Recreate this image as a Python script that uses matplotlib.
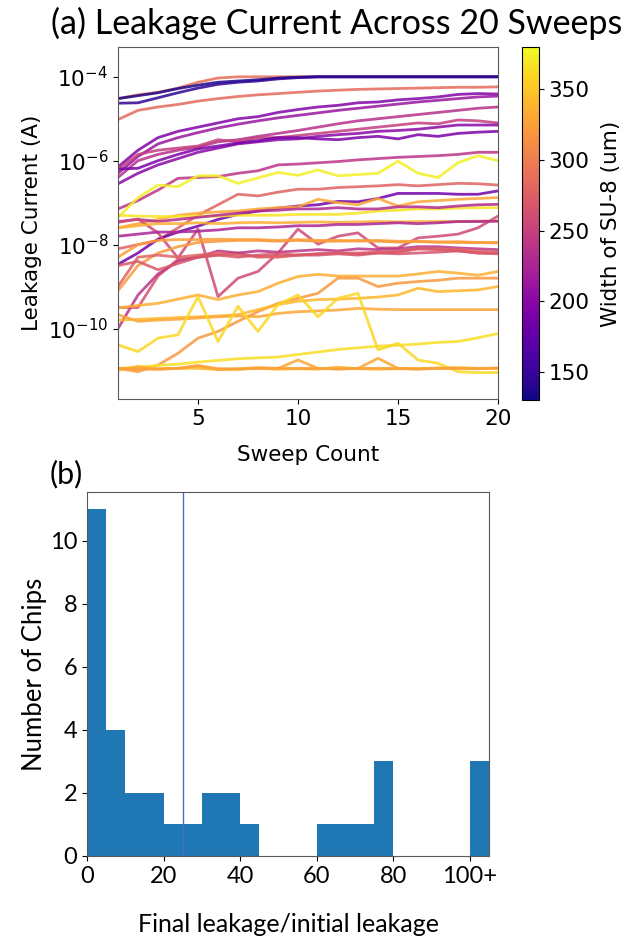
import numpy as np
import matplotlib
matplotlib.use("Agg")
import matplotlib.pyplot as plt
from matplotlib.colors import Normalize
from matplotlib.ticker import FixedLocator, NullLocator

# ---- panel (a): leakage current per sweep, log10(A), colored by SU-8 width (um)
sweeps = list(range(1, 21))

widths = [290, 135, 145, 285, 195, 212, 235, 248, 200, 190, 240, 375, 280, 185,
          330, 368, 230, 258, 320, 335, 265, 240, 335, 320, 340, 330, 365, 360,
          330, 340, 325, 225, 325, 280, 270]

log_leak = [
    [-4.52, -4.43, -4.37, -4.27, -4.13, -4.03, -4.0, -4.0, -4.0, -4.0, -4.0, -4.0, -4.0, -4.0, -4.0, -4.0, -4.0, -4.0, -4.0, -4.0],
    [-4.52, -4.45, -4.38, -4.28, -4.2, -4.13, -4.1, -4.07, -4.03, -4.01, -4.0, -4.0, -4.0, -4.0, -4.0, -4.0, -4.0, -4.0, -4.0, -4.0],
    [-4.63, -4.62, -4.5, -4.38, -4.27, -4.18, -4.13, -4.1, -4.05, -4.02, -4.0, -4.0, -4.0, -4.0, -4.0, -4.0, -4.0, -4.0, -4.0, -4.0],
    [-5.02, -4.8, -4.72, -4.66, -4.58, -4.52, -4.47, -4.43, -4.4, -4.37, -4.34, -4.32, -4.3, -4.29, -4.28, -4.27, -4.26, -4.25, -4.25, -4.24],
    [-6.15, -5.75, -5.45, -5.3, -5.2, -5.1, -5.0, -4.95, -4.85, -4.78, -4.72, -4.68, -4.62, -4.6, -4.55, -4.52, -4.48, -4.42, -4.4, -4.41],
    [-6.3, -5.9, -5.6, -5.45, -5.33, -5.22, -5.13, -5.05, -4.98, -4.92, -4.86, -4.8, -4.75, -4.7, -4.65, -4.6, -4.56, -4.52, -4.48, -4.46],
    [-6.4, -6.0, -5.85, -5.75, -5.68, -5.55, -5.5, -5.42, -5.35, -5.28, -5.2, -5.12, -5.05, -5.0, -4.95, -4.9, -4.85, -4.8, -4.75, -4.72],
    [-6.2, -5.85, -5.75, -5.7, -5.65, -5.5, -5.55, -5.45, -5.45, -5.4, -5.35, -5.3, -5.25, -5.2, -5.15, -5.1, -5.12, -5.03, -5.05, -5.1],
    [-6.55, -6.3, -6.1, -5.95, -5.8, -5.7, -5.6, -5.55, -5.5, -5.48, -5.42, -5.38, -5.35, -5.3, -5.28, -5.25, -5.2, -5.15, -5.15, -5.15],
    [-6.2, -6.18, -6.0, -5.85, -5.72, -5.65, -5.58, -5.52, -5.45, -5.45, -5.48, -5.5, -5.45, -5.42, -5.48, -5.38, -5.42, -5.35, -5.32, -5.3],
    [-7.15, -6.95, -6.7, -6.42, -6.4, -6.38, -6.3, -6.24, -6.1, -6.08, -6.05, -6.02, -5.98, -5.95, -5.92, -5.9, -5.88, -5.85, -5.8, -5.8],
    [-7.35, -6.88, -6.58, -6.62, -6.36, -6.36, -6.54, -6.41, -6.28, -6.35, -6.22, -6.36, -6.33, -6.3, -6.01, -6.3, -6.4, -6.05, -5.88, -6.0],
    [-8.1, -8.0, -7.9, -7.6, -7.3, -7.05, -6.8, -6.84, -6.75, -6.68, -6.68, -6.64, -6.62, -6.6, -6.57, -6.6, -6.57, -6.54, -6.55, -6.58],
    [-8.47, -8.2, -7.87, -7.7, -7.56, -7.4, -7.28, -7.2, -7.13, -7.08, -7.05, -6.97, -6.98, -6.9, -6.78, -6.78, -6.78, -6.8, -6.8, -6.72],
    [-7.6, -7.5, -7.4, -7.3, -7.25, -7.22, -7.2, -7.15, -7.12, -7.1, -6.92, -7.0, -7.05, -6.9, -7.08, -6.98, -6.95, -6.92, -6.9, -6.88],
    [-7.3, -7.32, -7.33, -7.33, -7.32, -7.32, -7.3, -7.3, -7.3, -7.28, -7.28, -7.28, -7.25, -7.2, -7.18, -7.15, -7.15, -7.13, -7.12, -7.12],
    [-7.45, -7.4, -7.45, -7.4, -7.35, -7.3, -7.25, -7.2, -7.18, -7.15, -7.15, -7.12, -7.15, -7.15, -7.1, -7.1, -7.12, -7.08, -7.05, -7.04],
    [-7.47, -7.39, -7.72, -8.32, -7.63, -9.24, -8.8, -8.64, -8.2, -7.63, -7.99, -7.8, -7.72, -8.08, -8.08, -7.84, -7.8, -7.75, -7.6, -7.32],
    [-9.1, -8.5, -8.2, -8.05, -7.95, -7.92, -7.9, -7.9, -7.92, -7.9, -7.92, -7.92, -7.9, -7.92, -7.94, -7.93, -7.94, -7.95, -7.95, -7.95],
    [-7.6, -7.55, -7.5, -7.5, -7.48, -7.5, -7.48, -7.47, -7.48, -7.47, -7.46, -7.47, -7.46, -7.45, -7.46, -7.45, -7.45, -7.45, -7.44, -7.44],
    [-9.5, -9.5, -8.75, -8.35, -8.3, -8.25, -8.2, -8.3, -8.28, -8.25, -8.25, -8.22, -8.25, -8.2, -8.22, -8.2, -8.18, -8.15, -8.2, -8.22],
    [-10.0, -9.2, -8.7, -8.4, -8.3, -8.15, -8.2, -8.15, -8.18, -8.15, -8.12, -8.15, -8.1, -8.12, -8.1, -8.05, -8.05, -8.08, -8.1, -8.12],
    [-9.51, -9.45, -9.4, -9.3, -9.2, -9.31, -9.2, -9.12, -8.92, -8.76, -8.71, -8.75, -8.75, -8.75, -8.75, -8.7, -8.64, -8.68, -8.73, -8.64],
    [-10.95, -11.03, -10.87, -10.59, -10.23, -10.07, -9.83, -9.6, -9.4, -9.28, -9.16, -8.8, -8.8, -9.0, -8.92, -8.88, -8.85, -8.8, -8.8, -8.8],
    [-9.8, -9.78, -9.76, -9.74, -9.72, -9.7, -9.67, -9.55, -9.43, -9.35, -9.31, -9.3, -9.28, -9.25, -9.2, -9.04, -9.12, -9.1, -9.08, -9.0],
    [-9.67, -9.83, -9.8, -9.78, -9.75, -9.72, -9.7, -9.72, -9.64, -9.6, -9.58, -9.56, -9.52, -9.54, -9.55, -9.55, -9.55, -9.55, -9.55, -9.55],
    [-10.95, -10.92, -10.88, -10.85, -10.8, -10.76, -10.72, -10.7, -10.68, -10.62, -10.56, -10.5, -10.46, -10.42, -10.4, -10.37, -10.33, -10.31, -10.22, -10.12],
    [-10.39, -10.55, -10.23, -10.15, -9.24, -10.31, -9.47, -10.07, -9.43, -9.2, -9.72, -9.28, -9.16, -10.51, -10.35, -10.75, -10.83, -11.03, -11.05, -11.05],
    [-10.95, -10.97, -10.97, -10.95, -10.9, -10.97, -10.97, -10.93, -10.95, -10.75, -10.95, -10.97, -10.95, -10.71, -10.95, -10.97, -10.95, -10.95, -10.95, -10.95],
    [-11.0, -10.9, -10.97, -10.95, -10.95, -10.98, -10.97, -10.95, -10.97, -10.96, -10.97, -10.92, -10.96, -10.97, -10.96, -10.96, -10.94, -10.93, -10.95, -10.95],
    [-10.95, -10.96, -10.96, -10.95, -10.88, -10.96, -10.96, -10.95, -10.95, -10.95, -10.95, -10.96, -10.95, -10.95, -10.95, -10.96, -10.95, -10.95, -10.96, -10.94],
    [-7.8, -7.75, -7.7, -7.7, -7.68, -7.65, -7.6, -7.6, -7.58, -7.55, -7.55, -7.52, -7.52, -7.5, -7.48, -7.5, -7.48, -7.45, -7.45, -7.44],
    [-8.3, -8.0, -7.9, -7.88, -7.88, -7.87, -7.88, -7.88, -7.9, -7.88, -7.9, -7.9, -7.92, -7.9, -7.92, -7.92, -7.94, -7.93, -7.95, -7.96],
    [-9.0, -8.3, -8.25, -8.3, -8.25, -8.2, -8.25, -8.28, -8.3, -8.25, -8.22, -8.2, -8.2, -8.18, -8.15, -8.1, -8.1, -8.12, -8.15, -8.18],
    [-8.5, -8.4, -8.6, -8.45, -8.3, -8.25, -8.3, -8.25, -8.22, -8.25, -8.22, -8.2, -8.22, -8.2, -8.18, -8.1, -8.12, -8.15, -8.2, -8.2],
]

# ---- panel (b): histogram of final/initial leakage ratio
bin_edges = [0, 5, 10, 15, 20, 25, 30, 35, 40, 45, 50, 55, 60, 65, 70, 75, 80,
             85, 90, 95, 100, 105]
chip_counts = [11, 4, 2, 2, 1, 1, 2, 2, 1, 0, 0, 0, 1, 1, 1, 3, 0, 0, 0, 0, 3]
ratio_ticks = [0, 20, 40, 60, 80, 100]
ratio_labels = ["0", "20", "40", "60", "80", "100+"]
threshold = 25

LABEL_FONT = ["Lato", "DejaVu Sans"]
W, H = 634, 944

fig = plt.figure(figsize=(W / 100, H / 100), dpi=100)

# top panel
ax1 = fig.add_axes([118 / W, 1 - 399 / H, 380 / W, 352 / H])
cax = fig.add_axes([522 / W, 1 - 400 / H, 17 / W, 353 / H])

cmap = plt.get_cmap("plasma")
norm = Normalize(vmin=130, vmax=380)
for w, series in zip(widths, log_leak):
    ax1.plot(sweeps, 10.0 ** np.array(series), color=cmap(norm(w)), lw=2, alpha=0.85)

ax1.set_yscale("log")
ax1.set_xlim(1, 20)
ax1.set_ylim(10 ** -11.68, 10 ** -3.29)
ax1.yaxis.set_major_locator(FixedLocator([1e-4, 1e-6, 1e-8, 1e-10]))
ax1.yaxis.set_minor_locator(NullLocator())
ax1.set_xticks([5, 10, 15, 20])
ax1.tick_params(labelsize=15.5)
ax1.set_xlabel("Sweep Count", fontsize=15.5, labelpad=12)
ax1.set_ylabel("Leakage Current (A)", fontsize=15.5, labelpad=4)

sm = plt.cm.ScalarMappable(norm=norm, cmap=cmap)
cb = fig.colorbar(sm, cax=cax)
cb.set_ticks([150, 200, 250, 300, 350])
cb.ax.tick_params(labelsize=15.5)
cb.set_label("Width of SU-8 (um)", fontsize=15.5, labelpad=8)

fig.text(337 / W, 1 - 23 / H, "(a) Leakage Current Across 20 Sweeps",
         family=LABEL_FONT, fontsize=24.5, ha="center", va="center")

# bottom panel
ax2 = fig.add_axes([87 / W, 1 - 856 / H, 402 / W, 364 / H])
ax2.bar(bin_edges[:-1], chip_counts, width=np.diff(bin_edges), align="edge",
        color="#1f77b4", linewidth=0)
ax2.axvline(threshold, color="#4472c4", lw=1)
ax2.set_xlim(0, 105)
ax2.set_ylim(0, 11.55)
ax2.set_xticks(ratio_ticks)
ax2.set_xticklabels(ratio_labels)
ax2.set_yticks([0, 2, 4, 6, 8, 10])
for lab in ax2.get_xticklabels() + ax2.get_yticklabels():
    lab.set_family(LABEL_FONT)
    lab.set_fontsize(17)
ax2.set_ylabel("Number of Chips", family=LABEL_FONT, fontsize=18.5, labelpad=2)
ax2.set_xlabel("Final leakage/initial leakage", family=LABEL_FONT, fontsize=18,
               labelpad=19)
fig.text(50 / W, 1 - 474 / H, "(b)", family=LABEL_FONT, fontsize=22,
         ha="left", va="center")

for ax in (ax1, ax2):
    for sp in ax.spines.values():
        sp.set_color("0.35")

fig.savefig("out.png", dpi=100)
